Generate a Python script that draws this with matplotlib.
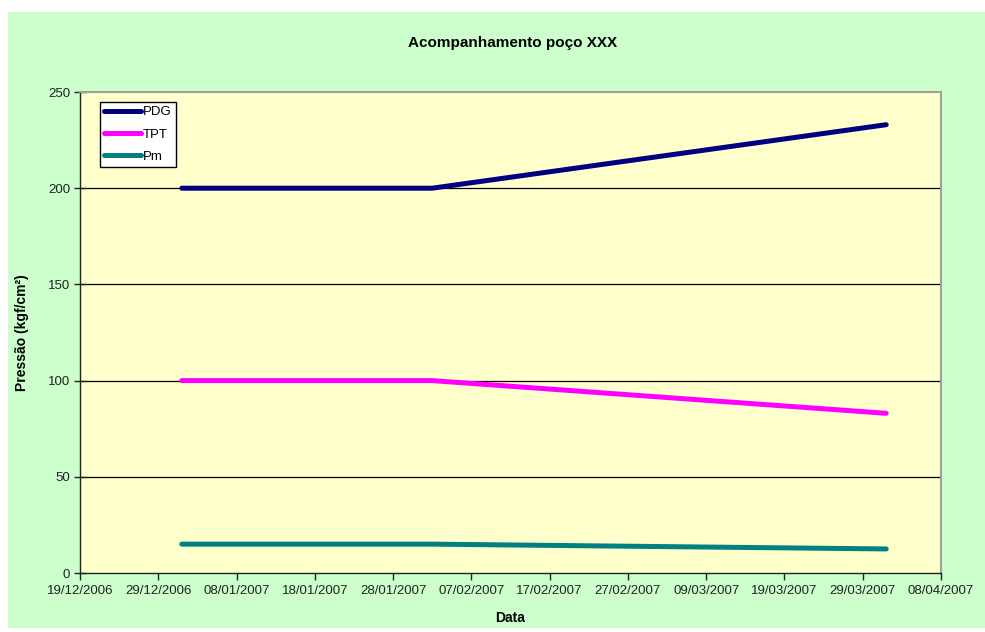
import matplotlib
matplotlib.use("Agg")
import matplotlib.pyplot as plt
import matplotlib.dates as mdates
from matplotlib.patches import Rectangle
import datetime as dt

plt.rcParams['font.family'] = ['Liberation Sans', 'DejaVu Sans']

dates = ["01/01/2007", "31/01/2007", "02/02/2007", "01/04/2007"]
pdg = [200, 200, 200, 233]
tpt = [100, 100, 100, 83]
pm = [15, 15, 15, 12.5]
series_names = ["PDG", "TPT", "Pm"]
series_colors = ["#000080", "#FF00FF", "#008080"]

x_start = "19/12/2006"
x_end = "08/04/2007"
tick_step_days = 10
y_ticks = [0, 50, 100, 150, 200, 250]

def parse(s):
    return dt.datetime.strptime(s, "%d/%m/%Y")

xd = [parse(d) for d in dates]
W, H = 985, 632
fig = plt.figure(figsize=(W / 100, H / 100), dpi=100)
fig.patch.set_facecolor("white")
fig.patches.append(Rectangle((8 / W, 4 / H), 1 - 8 / W, (628 - 12) / H,
                             transform=fig.transFigure, facecolor="#CCFFCC",
                             edgecolor="none", zorder=-10))

ax = fig.add_axes([80 / W, (H - 573) / H, (941 - 80) / W, (573 - 92) / H])
ax.set_facecolor("#FFFFCC")

for vals, name, col in zip([pdg, tpt, pm], series_names, series_colors):
    ax.plot(xd, vals, color=col, lw=3.6, solid_capstyle="round",
            solid_joinstyle="round", label=name, zorder=3)

x0, x1 = parse(x_start), parse(x_end)
ax.set_xlim(x0, x1)
ticks = []
t = x0
while t <= x1:
    ticks.append(t)
    t += dt.timedelta(days=tick_step_days)
ax.set_xticks(ticks)
ax.xaxis.set_major_formatter(mdates.DateFormatter("%d/%m/%Y"))
ax.set_ylim(0, 250)
ax.set_yticks(y_ticks)
for y in y_ticks[1:-1]:
    ax.axhline(y, color="black", lw=0.9, zorder=1)

for s in ["top", "right"]:
    ax.spines[s].set_color("#A0A0A0")
    ax.spines[s].set_linewidth(1.5)
for s in ["left", "bottom"]:
    ax.spines[s].set_color("#222222")
    ax.spines[s].set_linewidth(1.0)

ax.tick_params(axis="x", direction="out", length=5, width=1, labelsize=9.5,
               colors="#222222", pad=4)
ax.tick_params(axis="y", direction="inout", length=8, width=1, labelsize=9.5,
               colors="#222222", pad=3)

ax.set_xlabel("Data", fontsize=10, fontweight="bold", labelpad=10)
ax.set_ylabel("Pressão (kgf/cm²)", fontsize=10, fontweight="bold", labelpad=14)
fig.text(0.52, (H - 43) / H, "Acompanhamento poço XXX", fontsize=11,
         fontweight="bold", ha="center", va="center")

leg = ax.legend(loc="upper left", bbox_to_anchor=(0.023, 0.98), frameon=True,
                fancybox=False, fontsize=9.5, handlelength=2.8, handletextpad=0.1,
                borderpad=0.35, labelspacing=0.75, borderaxespad=0)
leg.get_frame().set_edgecolor("black")
leg.get_frame().set_linewidth(1.0)
leg.get_frame().set_facecolor("white")
leg.get_frame().set_alpha(1)

fig.savefig("out.png", dpi=100, facecolor=fig.get_facecolor())
